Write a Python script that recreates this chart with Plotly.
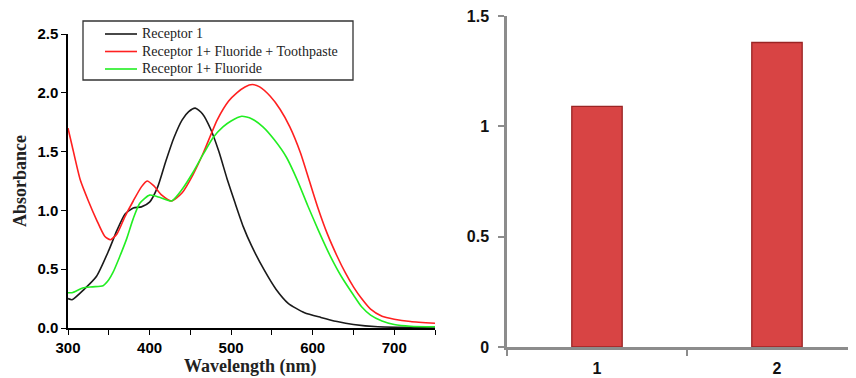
import plotly.graph_objects as go

# ---- Left panel: UV-vis spectra ----
wl_black = [300, 305, 320, 335, 350, 360, 370, 380, 390, 400, 410, 420, 430, 440, 448, 456, 465, 475, 485, 495,
            505, 515, 525, 540, 555, 570, 590, 610, 630, 650, 680, 710, 750]
abs_black = [0.25, 0.24, 0.33, 0.44, 0.66, 0.83, 0.97, 1.02, 1.03, 1.07, 1.20, 1.42, 1.62, 1.77, 1.84, 1.87, 1.82,
             1.69, 1.50, 1.27, 1.06, 0.86, 0.70, 0.50, 0.33, 0.21, 0.13, 0.09, 0.055, 0.03, 0.01, 0.005, 0.0]

wl_red = [300, 305, 315, 325, 335, 345, 352, 360, 370, 380, 390, 397, 405, 415, 427, 440, 453, 466, 483, 497,
          507, 517, 526, 535, 548, 560, 572, 585, 596, 607, 618, 630, 640, 650, 660, 671, 685, 700, 720, 750]
abs_red = [1.70, 1.55, 1.26, 1.08, 0.92, 0.78, 0.75, 0.80, 0.95, 1.08, 1.20, 1.25, 1.21, 1.13, 1.08, 1.15, 1.30,
           1.49, 1.77, 1.93, 2.00, 2.05, 2.07, 2.05, 1.97, 1.86, 1.71, 1.49, 1.25, 1.01, 0.80, 0.61, 0.47, 0.35,
           0.25, 0.16, 0.10, 0.075, 0.055, 0.04]

wl_green = [300, 305, 318, 330, 343, 350, 355, 363, 372, 380, 388, 400, 413, 427, 440, 453, 466, 478, 490, 500,
            513, 525, 539, 553, 568, 581, 594, 607, 621, 635, 650, 660, 671, 685, 700, 720, 750]
abs_green = [0.30, 0.30, 0.34, 0.35, 0.36, 0.41, 0.47, 0.60, 0.76, 0.93, 1.06, 1.13, 1.11, 1.08, 1.18, 1.32, 1.48,
             1.62, 1.71, 1.76, 1.80, 1.78, 1.71, 1.60, 1.45, 1.26, 1.04, 0.83, 0.62, 0.44, 0.28, 0.18, 0.11, 0.06,
             0.03, 0.015, 0.01]

series_names = ["Receptor 1", "Receptor 1+ Fluoride + Toothpaste", "Receptor 1+ Fluoride"]
series_colors = ["#1a1a1a", "#ff2020", "#22ee22"]
x_ticks_left = [300, 400, 500, 600, 700]
y_ticks_left = [0.0, 0.5, 1.0, 1.5, 2.0, 2.5]

# ---- Right panel: bar chart ----
bar_categories = ["1", "2"]
bar_values = [1.09, 1.38]
y_ticks_right = [0, 0.5, 1, 1.5]
y_ticklabels_right = ["0", "0.5", "1", "1.5"]

# the page body has an 8px margin, so the figure is 8px smaller than the window
OFF = 8
W, H = 856 - OFF, 378 - OFF
tick_font = dict(family="Liberation Sans, Arial", size=15, color="black", weight="bold")
tick_font_r = dict(family="Liberation Sans, Arial", size=16, color="#111", weight="bold")
serif = "Liberation Serif, Times New Roman"


def px(x):
    return (x - OFF) / W


def py(y):
    return 1 - (y - OFF) / H


fig = go.Figure()
for wl, ab, name, col in zip([wl_black, wl_red, wl_green], [abs_black, abs_red, abs_green],
                             series_names, series_colors):
    fig.add_trace(go.Scatter(x=wl, y=ab, mode="lines", name=name, showlegend=False,
                             line=dict(color=col, width=1.6, shape="spline", smoothing=0.6),
                             xaxis="x", yaxis="y"))

fig.add_trace(go.Bar(x=bar_categories, y=bar_values, width=0.28, showlegend=False,
                     marker=dict(color="#d84444", line=dict(color="#9a2424", width=1.3)),
                     xaxis="x2", yaxis="y2"))

# legend (box + sample lines + text)
shapes = [dict(type="rect", xref="paper", yref="paper", x0=px(83), x1=px(353), y0=py(80), y1=py(21),
               line=dict(color="#333", width=1.3), fillcolor="white", layer="above")]
annotations = []
for i, (name, col) in enumerate(zip(series_names, series_colors)):
    yy = [34, 51.5, 69][i]
    shapes.append(dict(type="line", xref="paper", yref="paper", x0=px(105), x1=px(137), y0=py(yy), y1=py(yy),
                       line=dict(color=col, width=1.6), layer="above"))
    annotations.append(dict(text=name, x=px(140), y=py(yy), xref="paper", yref="paper", showarrow=False,
                            xanchor="left", yanchor="middle",
                            font=dict(family=serif, size=14, color="#222")))

annotations += [
    dict(text="<b>Absorbance</b>", x=px(20), y=py(181), xref="paper", yref="paper",
         textangle=-90, showarrow=False, font=dict(family=serif, size=18, color="#222"),
         xanchor="center", yanchor="middle"),
    dict(text="<b>Wavelength (nm)</b>", x=px(251), y=0, xref="paper", yref="paper",
         showarrow=False, font=dict(family=serif, size=18, color="#222"),
         xanchor="center", yanchor="bottom", yshift=-1),
]

fig.update_layout(
    width=W, height=H,
    margin=dict(l=0, r=0, t=0, b=0),
    paper_bgcolor="white", plot_bgcolor="white",
    showlegend=False,
    xaxis=dict(domain=[px(68), px(435)], range=[300, 750], tickvals=x_ticks_left, automargin=False,
               showgrid=False, zeroline=False, showline=True, linecolor="black", linewidth=1.5,
               ticks="outside", ticklen=5, tickwidth=1.2, tickcolor="black", tickfont=tick_font,
               minor=dict(dtick=50, tick0=300, ticks="outside", ticklen=5, tickcolor="black", tickwidth=1.2),
               anchor="y"),
    yaxis=dict(domain=[py(328), py(34)], range=[0, 2.5], tickvals=y_ticks_left, automargin=False,
               tickformat=".1f", showgrid=False, zeroline=False, showline=True, linecolor="black",
               linewidth=1.5, ticks="outside", ticklen=5, tickwidth=1.2, tickcolor="black",
               tickfont=tick_font, anchor="x", ticklabeloverflow="allow"),
    xaxis2=dict(domain=[px(507), 1.0], range=[-0.5, 1.439], type="category", tickson="boundaries",
                automargin=False,
                showgrid=False, zeroline=False, showline=True, linecolor="#8c8c8c", linewidth=2.5,
                ticks="outside", ticklen=6, tickwidth=2, tickcolor="#8c8c8c",
                tickfont=tick_font_r, anchor="y2", ticklabelstandoff=5),
    yaxis2=dict(domain=[py(347), py(16)], range=[0, 1.5], tickvals=y_ticks_right, automargin=False,
                ticktext=y_ticklabels_right, showgrid=False, zeroline=False, showline=True,
                linecolor="#8c8c8c", linewidth=2.5, ticks="outside", ticklen=6, tickwidth=2,
                tickcolor="#8c8c8c", tickfont=tick_font_r, anchor="x2", ticklabeloverflow="allow",
                ticklabelstandoff=6),
    shapes=shapes,
    annotations=annotations,
)

fig.write_html("out.html")
